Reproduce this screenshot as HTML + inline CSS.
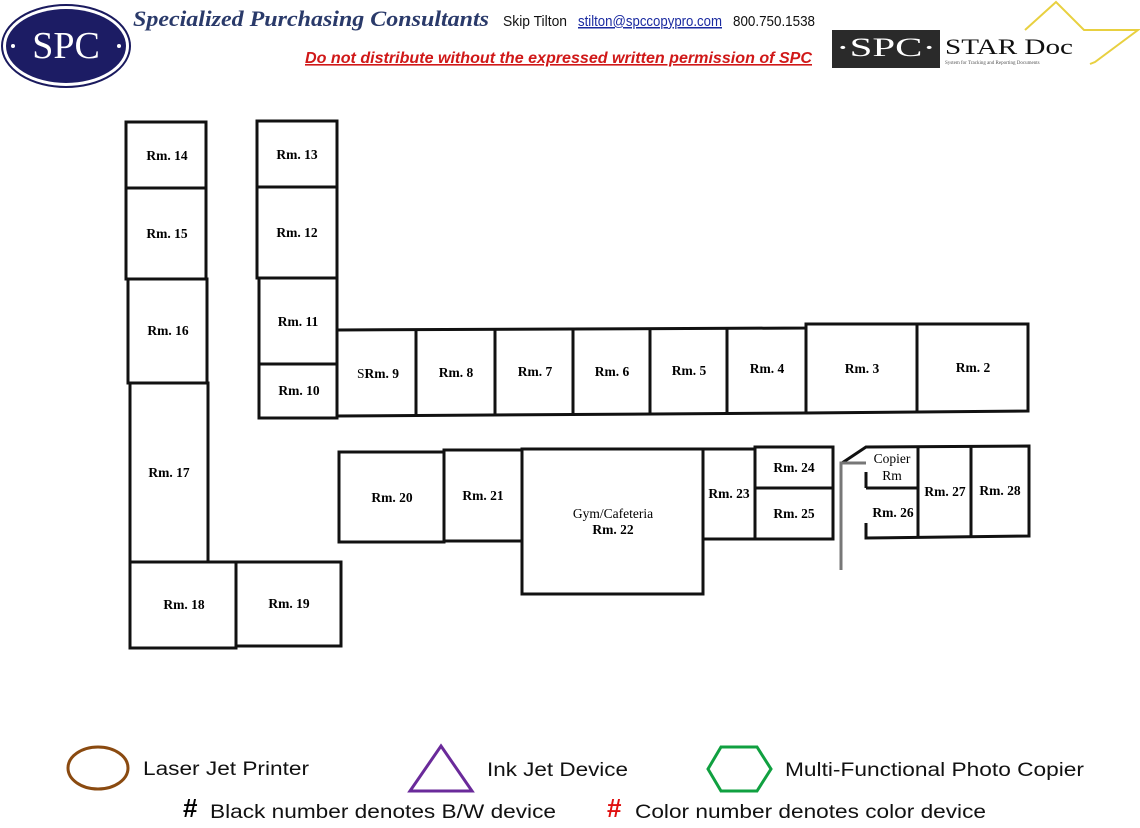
<!DOCTYPE html>
<html><head><meta charset="utf-8"><style>
html,body{margin:0;padding:0;background:#fff;}
svg{display:block}
.r{font-family:"Liberation Serif",serif;font-weight:bold;font-size:13.5px;fill:#000;text-anchor:middle}
.n{font-weight:normal}
.l{font-family:"Liberation Sans",sans-serif;font-size:19px;fill:#111}
</style></head><body>
<svg width="1140" height="828" viewBox="0 0 1140 828" xmlns="http://www.w3.org/2000/svg">
<!-- header -->
<ellipse cx="66" cy="46" rx="64" ry="41" fill="#fff" stroke="#1a1a5e" stroke-width="2"/>
<ellipse cx="66" cy="46" rx="60" ry="37" fill="#1c1c64"/>
<text x="66" y="58" font-family="Liberation Serif,serif" font-size="38" fill="#fff" text-anchor="middle">SPC</text>
<circle cx="13" cy="46" r="2" fill="#fff"/><circle cx="119" cy="46" r="2" fill="#fff"/>
<text x="133" y="26" font-family="Liberation Serif,serif" font-style="italic" font-weight="bold" font-size="22" fill="#2a3a6a" textLength="356" lengthAdjust="spacingAndGlyphs">Specialized Purchasing Consultants</text>
<text x="503" y="26" font-family="Liberation Sans,sans-serif" font-size="15" fill="#111" textLength="64" lengthAdjust="spacingAndGlyphs">Skip Tilton</text>
<text x="578" y="26" font-family="Liberation Sans,sans-serif" font-size="15" fill="#1a2aa0" text-decoration="underline" textLength="144" lengthAdjust="spacingAndGlyphs">stilton@spccopypro.com</text>
<text x="733" y="26" font-family="Liberation Sans,sans-serif" font-size="15" fill="#111" textLength="82" lengthAdjust="spacingAndGlyphs">800.750.1538</text>
<text x="305" y="63" font-family="Liberation Sans,sans-serif" font-style="italic" font-weight="bold" font-size="16" fill="#d01818" text-decoration="underline" textLength="507" lengthAdjust="spacingAndGlyphs">Do not distribute without the expressed written permission of SPC</text>
<polyline points="1025,30 1056,2 1084,30 1138,30 1095,62 1090,64" fill="none" stroke="#e8d040" stroke-width="2"/>
<rect x="832" y="30" width="108" height="38" fill="#2a2a2a"/>
<text x="886" y="56" font-family="Liberation Serif,serif" font-size="26" fill="#fff" text-anchor="middle" textLength="100" lengthAdjust="spacingAndGlyphs">·SPC·</text>
<text x="945" y="54" font-family="Liberation Serif,serif" font-size="22" fill="#111" textLength="128" lengthAdjust="spacingAndGlyphs">STAR Doc</text>
<text x="945" y="64" font-family="Liberation Serif,serif" font-size="5" fill="#555">System for Tracking and Reporting Documents</text>

<g fill="none" stroke="#111" stroke-width="3">
<rect x="126" y="122" width="80" height="66"/>
<rect x="126" y="188" width="80" height="91"/>
<rect x="128" y="279" width="79" height="104"/>
<rect x="130" y="383" width="78" height="179"/>
<rect x="130" y="562" width="106" height="86"/>
<rect x="236" y="562" width="105" height="84"/>
<rect x="257" y="121" width="80" height="66"/>
<rect x="257" y="187" width="80" height="91"/>
<rect x="259" y="278" width="78" height="86"/>
<rect x="259" y="364" width="78" height="54"/>
<polyline points="337,330 806,328 806,324 1028,324 1028,411 806,413 337,416"/>
<line x1="416" y1="330" x2="416" y2="416"/>
<line x1="495" y1="330" x2="495" y2="416"/>
<line x1="573" y1="329" x2="573" y2="415"/>
<line x1="650" y1="329" x2="650" y2="414"/>
<line x1="727" y1="328" x2="727" y2="414"/>
<line x1="806" y1="328" x2="806" y2="413"/>
<line x1="917" y1="324" x2="917" y2="412"/>
<rect x="339" y="452" width="105" height="90"/>
<rect x="444" y="450" width="78" height="91"/>
<rect x="522" y="449" width="181" height="145"/>
<rect x="703" y="449" width="52" height="90"/>
<rect x="755" y="447" width="78" height="41"/>
<rect x="755" y="488" width="78" height="51"/>
<polyline points="842,463 866,447 1029,446 1029,536 866,538 866,523"/>
<line x1="866" y1="488" x2="866" y2="472"/>
<line x1="866" y1="488" x2="918" y2="488"/>
<line x1="918" y1="447" x2="918" y2="538"/>
<line x1="971" y1="446" x2="971" y2="537"/>
</g>
<polyline points="841,570 841,463 866,463" fill="none" stroke="#777" stroke-width="3"/>

<text class="r" x="167" y="160">Rm. 14</text>
<text class="r" x="167" y="238">Rm. 15</text>
<text class="r" x="168" y="335">Rm. 16</text>
<text class="r" x="169" y="477">Rm. 17</text>
<text class="r" x="184" y="609">Rm. 18</text>
<text class="r" x="289" y="608">Rm. 19</text>
<text class="r" x="297" y="159">Rm. 13</text>
<text class="r" x="297" y="237">Rm. 12</text>
<text class="r" x="298" y="326">Rm. 11</text>
<text class="r" x="299" y="395">Rm. 10</text>
<text class="r" x="378" y="378"><tspan class="n">S</tspan>Rm. 9</text>
<text class="r" x="456" y="377">Rm. 8</text>
<text class="r" x="535" y="376">Rm. 7</text>
<text class="r" x="612" y="376">Rm. 6</text>
<text class="r" x="689" y="375">Rm. 5</text>
<text class="r" x="767" y="373">Rm. 4</text>
<text class="r" x="862" y="373">Rm. 3</text>
<text class="r" x="973" y="372">Rm. 2</text>
<text class="r" x="392" y="502">Rm. 20</text>
<text class="r" x="483" y="500">Rm. 21</text>
<text class="r n" x="613" y="518">Gym/Cafeteria</text>
<text class="r" x="613" y="534">Rm. 22</text>
<text class="r" x="729" y="498">Rm. 23</text>
<text class="r" x="794" y="472">Rm. 24</text>
<text class="r" x="794" y="518">Rm. 25</text>
<text class="r n" x="892" y="463">Copier</text>
<text class="r n" x="892" y="480">Rm</text>
<text class="r" x="893" y="517">Rm. 26</text>
<text class="r" x="945" y="496">Rm. 27</text>
<text class="r" x="1000" y="495">Rm. 28</text>

<ellipse cx="98" cy="768" rx="30" ry="21" fill="none" stroke="#8a4a10" stroke-width="3"/>
<text class="l" x="143" y="775" textLength="166" lengthAdjust="spacingAndGlyphs">Laser Jet Printer</text>
<polygon points="441,746 472,791 410,791" fill="none" stroke="#6a2a9a" stroke-width="3"/>
<text class="l" x="487" y="776" textLength="141" lengthAdjust="spacingAndGlyphs">Ink Jet Device</text>
<polygon points="721,747 757,747 771,769 757,791 721,791 708,769" fill="none" stroke="#10a040" stroke-width="3"/>
<text class="l" x="785" y="776" textLength="299" lengthAdjust="spacingAndGlyphs">Multi-Functional Photo Copier</text>
<text x="183" y="817" font-family="Liberation Sans,sans-serif" font-weight="bold" font-size="26" fill="#000">#</text>
<text class="l" x="210" y="818" textLength="346" lengthAdjust="spacingAndGlyphs">Black number denotes B/W device</text>
<text x="607" y="817" font-family="Liberation Sans,sans-serif" font-weight="bold" font-size="26" fill="#e01010">#</text>
<text class="l" x="635" y="818" textLength="351" lengthAdjust="spacingAndGlyphs">Color number denotes color device</text>
</svg>
</body></html>
